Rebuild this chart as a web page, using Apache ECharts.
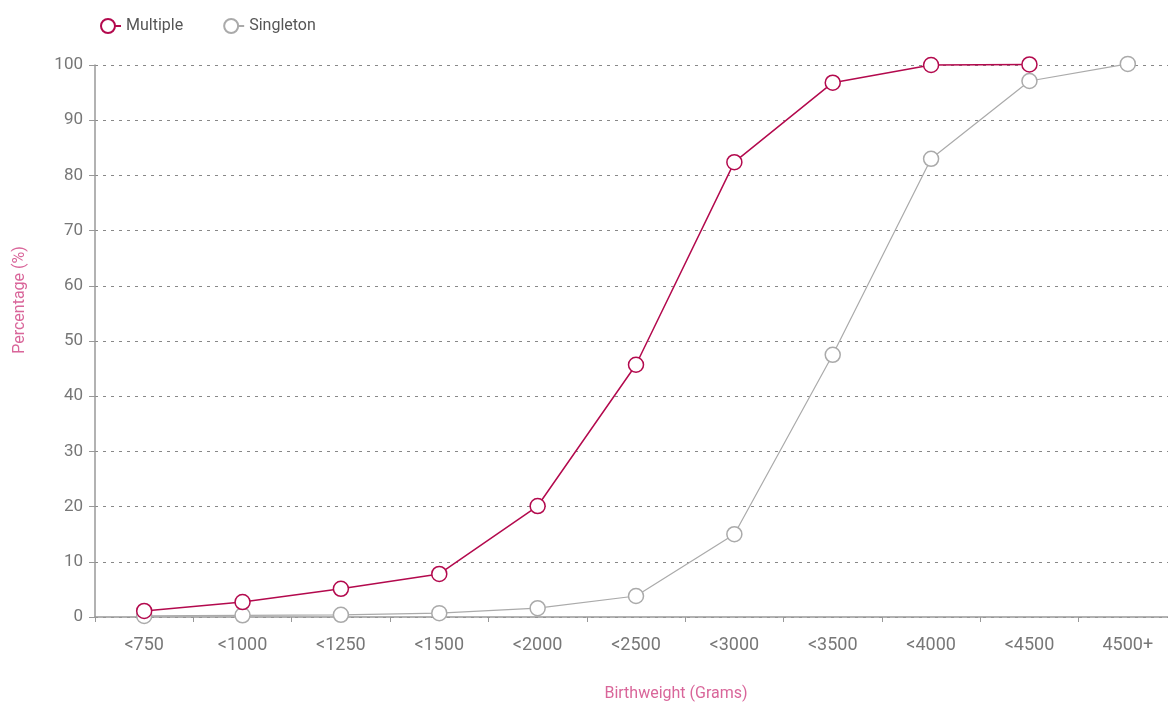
<!DOCTYPE html>
<html>
<head>
<meta charset="utf-8">
<script src="https://cdn.jsdelivr.net/npm/echarts@6/dist/echarts.min.js"></script>
<style>html,body{margin:0;padding:0;background:#fff;overflow:hidden;width:1168px;height:704px}#c{width:1177px;height:704px}</style>
</head>
<body>
<div id="c"></div>
<script>
const categories = ['<750','<1000','<1250','<1500','<2000','<2500','<3000','<3500','<4000','<4500','4500+'];
const multiple = [1.1, 2.7, 5.1, 7.8, 20.1, 45.7, 82.4, 96.8, 100, 100.1];
const singleton = [0.2, 0.3, 0.4, 0.7, 1.6, 3.8, 15.0, 47.5, 83.0, 97.1, 100.2];
const yTicks = [0,10,20,30,40,50,60,70,80,90,100];

const font = 'Roboto, "Liberation Sans", sans-serif';
const legendIcon = 'path://M0,7A7,7,0,1,1,14,7A7,7,0,1,1,0,7ZM14,7L20,7';
const chart = echarts.init(document.getElementById('c'), null, {renderer:'canvas'});
chart.setOption({
  animation: false,
  textStyle: {fontFamily: font},
  legend: {
    left: 95, top: 13, itemGap: 40, itemWidth: 20, itemHeight: 14, icon: legendIcon,
    textStyle: {color: '#555', fontSize: 16, fontFamily: font},
    data: ['Multiple','Singleton']
  },
  grid: {left: 95, right: 0, top: 65, bottom: 87, containLabel: false},
  xAxis: {
    type: 'category', data: categories, boundaryGap: true,
    axisLine: {lineStyle: {color: '#999', width: 1.5}},
    axisTick: {show: true, length: 5, lineStyle: {color: '#999'}},
    axisLabel: {color: '#777', fontSize: 18, margin: 19, fontFamily: font}
  },
  yAxis: {
    type: 'value', min: 0, max: 100, interval: 10,
    axisLine: {show: true, lineStyle: {color: '#999', width: 1.5}},
    axisTick: {show: true, length: 6, lineStyle: {color: '#999'}},
    axisLabel: {color: '#777', fontSize: 17, margin: 12, fontFamily: font},
    splitLine: {show: true, lineStyle: {color: '#888', type: [3,5], width: 1}}
  },
  graphic: [
    {type: 'text', x: 676, y: 694, style: {text: 'Birthweight (Grams)', fill: '#d9669a', font: '16px ' + font, align: 'center', verticalAlign: 'middle'}},
    {type: 'text', x: 20, y: 300, rotation: Math.PI/2, style: {text: 'Percentage (%)', fill: '#d9669a', font: '16px ' + font, align: 'center', verticalAlign: 'middle'}}
  ],
  series: [
    {
      name: 'Multiple', type: 'line', data: multiple, symbol: 'circle', symbolSize: 15, clip: false,
      itemStyle: {color: '#fff', borderColor: '#b3094d', borderWidth: 1.5},
      lineStyle: {color: '#b3094d', width: 1.5}, z: 3
    },
    {
      name: 'Singleton', type: 'line', data: singleton, symbol: 'circle', symbolSize: 15, clip: false,
      itemStyle: {color: '#fff', borderColor: '#aaa', borderWidth: 1.5},
      lineStyle: {color: '#aaa', width: 1.2}, z: 2
    }
  ]
});
</script>
</body>
</html>
